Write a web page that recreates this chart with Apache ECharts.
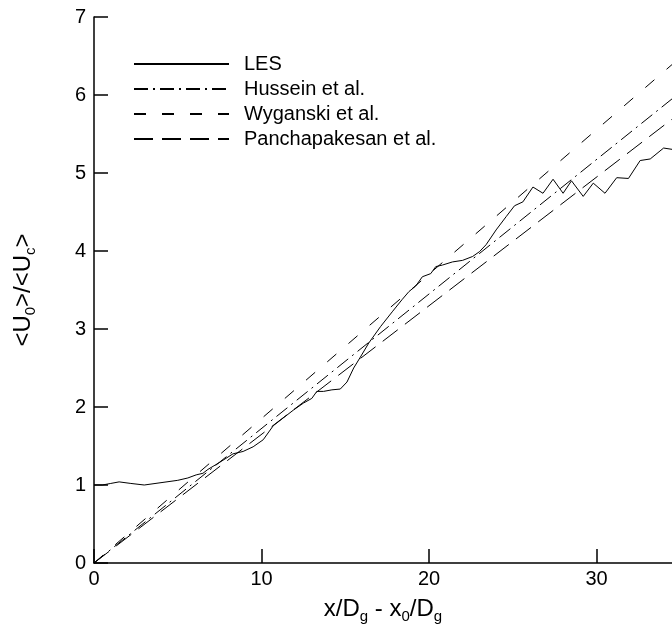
<!DOCTYPE html>
<html>
<head>
<meta charset="utf-8">
<title>Centreline velocity decay</title>
<script src="https://cdn.jsdelivr.net/npm/echarts@6/dist/echarts.min.js"></script>
<style>
  html, body { margin: 0; padding: 0; background: #fff; }
  #chart { width: 672px; height: 637px; }
</style>
</head>
<body>
<div id="chart"></div>
<script>
// Tick positions on both axes
const xTicks = [0, 10, 20, 30];
const yTicks = [0, 1, 2, 3, 4, 5, 6, 7];

// LES centreline velocity ratio, [x/Dg - x0/Dg, <U0>/<Uc>]
const lesX = [0, 0.5, 1.0, 1.5, 2.2, 3.0, 4.0, 5.0, 5.6, 6.1, 6.5, 6.8, 7.5, 8.3, 8.9, 9.5,
  10.1, 10.7, 11.3, 11.9, 12.5, 13.0, 13.3, 13.7, 14.2, 14.7, 15.1, 15.5, 15.9, 16.4, 17.1,
  17.8, 18.4, 18.8, 19.2, 19.6, 20.1, 20.4, 20.8, 21.4, 22.0, 22.6, 23.0, 23.4, 24.0, 24.6,
  25.1, 25.6, 26.2, 26.8, 27.4, 28.0, 28.5, 29.2, 29.8, 30.5, 31.2, 31.9, 32.6, 33.2, 34.0, 34.6];
const lesY = [1.00, 1.00, 1.02, 1.04, 1.02, 1.00, 1.03, 1.06, 1.09, 1.13, 1.15, 1.20, 1.29, 1.40, 1.43, 1.49,
  1.58, 1.76, 1.86, 1.96, 2.05, 2.11, 2.20, 2.20, 2.22, 2.23, 2.32, 2.50, 2.64, 2.82, 3.03,
  3.22, 3.38, 3.48, 3.55, 3.67, 3.71, 3.80, 3.82, 3.86, 3.88, 3.93, 3.99, 4.08, 4.27, 4.44,
  4.58, 4.63, 4.82, 4.74, 4.92, 4.74, 4.90, 4.70, 4.87, 4.74, 4.94, 4.93, 5.16, 5.18, 5.32, 5.30];

// Experimental linear decay laws, end points of each straight line
const fitX = [0, 34.5];
const husseinY = [0, 5.95];
const wyganskiY = [0, 6.39];
const panchapakesanY = [0, 5.69];

const pairs = (xs, ys) => xs.map((x, i) => [x, ys[i]]);

const FONT = '"Liberation Sans", Arial, Helvetica, sans-serif';

const chart = echarts.init(document.getElementById('chart'), null, { renderer: 'canvas' });

const lineSeries = (name, data, dash) => ({
  name: name,
  type: 'line',
  data: data,
  symbol: 'none',
  color: '#000',
  animation: false,
  clip: true,
  lineStyle: { color: '#000', width: 1, type: dash }
});

chart.setOption({
  animation: false,
  backgroundColor: '#fff',
  grid: { left: 94, right: 0, top: 17, bottom: 74, containLabel: false },
  legend: {
    orient: 'vertical',
    left: 128,
    top: 49,
    itemWidth: 95,
    itemHeight: 14,
    itemGap: 5,
    selectedMode: false,
    itemStyle: { opacity: 0 },
    textStyle: { fontFamily: FONT, fontSize: 20, color: '#000', padding: [0, 0, 0, 10] },
    data: ['LES', 'Hussein et al.', 'Wyganski et al.', 'Panchapakesan et al.']
  },
  xAxis: {
    type: 'value',
    min: 0,
    max: 34.5,
    interval: 10,
    name: 'x/D{s|g} - x{s|0}/D{s|g}',
    nameLocation: 'middle',
    nameGap: 30,
    nameTextStyle: {
      fontFamily: FONT, fontSize: 24, color: '#000', lineHeight: 30,
      rich: { s: { fontFamily: FONT, fontSize: 15, color: '#000', verticalAlign: 'bottom', lineHeight: 30 } }
    },
    axisLine: { show: true, onZero: false, lineStyle: { color: '#000', width: 1.5 } },
    axisTick: { show: true, inside: true, length: 14, customValues: xTicks, lineStyle: { color: '#000', width: 1.5 } },
    axisLabel: { show: true, customValues: xTicks, margin: 6, fontFamily: FONT, fontSize: 20, color: '#000' },
    splitLine: { show: false }
  },
  yAxis: {
    type: 'value',
    min: 0,
    max: 7,
    interval: 1,
    name: '<U{s|0}>/<U{s|c}>',
    nameLocation: 'middle',
    nameRotate: 90,
    nameGap: 56,
    nameTextStyle: {
      fontFamily: FONT, fontSize: 24, color: '#000', lineHeight: 30,
      rich: { s: { fontFamily: FONT, fontSize: 15, color: '#000', verticalAlign: 'bottom', lineHeight: 30 } }
    },
    axisLine: { show: true, onZero: false, lineStyle: { color: '#000', width: 1.5 } },
    axisTick: { show: true, inside: true, length: 14, customValues: yTicks, lineStyle: { color: '#000', width: 1.5 } },
    axisLabel: { show: true, customValues: yTicks, margin: 8, fontFamily: FONT, fontSize: 20, color: '#000' },
    splitLine: { show: false }
  },
  series: [
    lineSeries('LES', pairs(lesX, lesY), 'solid'),
    lineSeries('Hussein et al.', pairs(fitX, husseinY), [14, 5, 2, 5]),
    lineSeries('Wyganski et al.', pairs(fitX, wyganskiY), [12, 16]),
    lineSeries('Panchapakesan et al.', pairs(fitX, panchapakesanY), [19, 9])
  ]
});
</script>
</body>
</html>
